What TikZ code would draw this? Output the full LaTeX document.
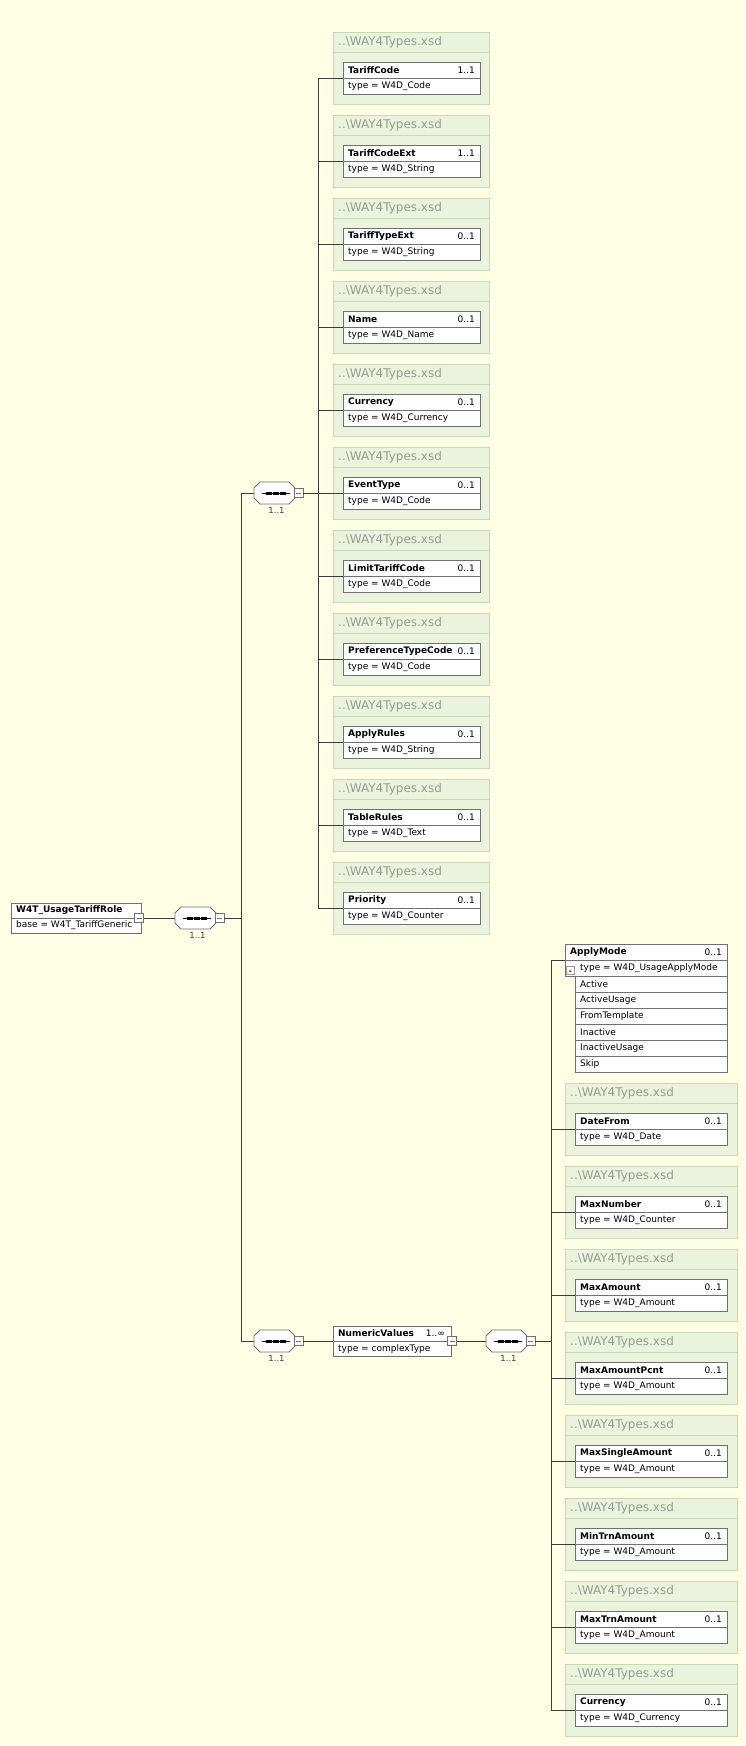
\documentclass[tikz,border=0pt]{standalone}
\usepackage{fontspec}
\setmainfont{DejaVu Sans}
\usetikzlibrary{calc}

\definecolor{bg}{RGB}{255,255,230}
\definecolor{grpfill}{RGB}{236,243,221}
\definecolor{grpline}{RGB}{202,215,186}
\definecolor{hdrtext}{RGB}{150,156,148}
\definecolor{boxline}{RGB}{112,112,112}
\definecolor{wirecol}{RGB}{60,60,60}

\tikzset{
  wire/.style={draw=wirecol, line width=0.8pt},
  grpbox/.style={draw=grpline, fill=grpfill, line width=1pt, anchor=north west,
    minimum width=#1, minimum height=72, inner sep=0pt, outer sep=0pt},
  grpsep/.style={draw=grpline, line width=0.8pt},
  elbox/.style={draw=boxline, fill=white, line width=0.8pt, anchor=north west,
    minimum width=#1, minimum height=32, inner sep=0pt, outer sep=0pt},
  rowline/.style={draw=boxline, line width=0.8pt},
  txt/.style={inner sep=0pt, font=\fontsize{9}{10}\selectfont, text=black},
  hdr/.style={inner sep=0pt, font=\fontsize{12}{13}\selectfont, text=hdrtext, anchor=west},
  seqnode/.style={minimum width=41, minimum height=22, inner sep=0pt, outer sep=0pt},
  seqline/.style={draw=boxline, fill=white, line width=0.8pt},
  minus/.style={draw=boxline, fill=white, line width=0.8pt, minimum size=9,
    inner sep=0pt, outer sep=0pt},
  occ/.style={inner sep=0pt, font=\fontsize{8.5}{10}\selectfont, text=black!75},
}

% imported element: file header plus a two-row element box
% #1 id, #2 left, #3 top, #4 group width, #5 box width, #6 name, #7 occurrence, #8 type
\newcommand{\xsdgroup}[8]{%
  \node[grpbox=#4] (g#1) at (#2,#3) {};
  \draw[grpsep] ($(g#1.north west)+(0,20)$) -- ($(g#1.north east)+(0,20)$);
  \node[hdr] (h#1) at ($(g#1.north west)+(5,10)$) {..\textbackslash WAY4Types.xsd};
  \node[elbox=#5] (e#1) at ($(g#1.north west)+(10,30)$) {};
  \draw[rowline] (e#1.west) -- (e#1.east);
  \node[txt, anchor=west] (n#1) at ($(e#1.north west)+(5,8)$) {\bfseries #6};
  \node[txt, anchor=east] (o#1) at ($(e#1.north east)+(-5,8)$) {#7};
  \node[txt, anchor=west] (t#1) at ($(e#1.south west)+(5,-8)$) {type = #8};
}

% sequence compositor outline and its symbol
\newcommand{\seqshape}[1]{%
  \draw[seqline] ($(#1.west)+(0,-5)$) -- ($(#1.north west)+(6,0)$)
    -- ($(#1.north east)+(-6,0)$) -- ($(#1.east)+(0,-5)$)
    -- ($(#1.east)+(0,5)$) -- ($(#1.south east)+(-6,0)$)
    -- ($(#1.south west)+(6,0)$) -- ($(#1.west)+(0,5)$) -- cycle;
  \draw[black, line width=0.8pt] ($(#1.center)+(-12.5,0)$) -- ($(#1.center)+(15.5,0)$);
  \fill[black] ($(#1.center)+(-8.5,-1.5)$) rectangle ($(#1.center)+(-3,1.5)$);
  \fill[black] ($(#1.center)+(-1.5,-1.5)$) rectangle ($(#1.center)+(4,1.5)$);
  \fill[black] ($(#1.center)+(5.5,-1.5)$) rectangle ($(#1.center)+(11,1.5)$);
}

% collapse button
\newcommand{\minusbox}[2]{%
  \node[minus] (#1) at (#2) {};
  \draw[boxline, line width=0.7pt] ($(#1.center)+(-2.5,0)$) -- ($(#1.center)+(2.5,0)$);
}

\begin{document}
\begin{tikzpicture}[x=1pt, y=-1pt]
\useasboundingbox (0,0) rectangle (746,1746);
\fill[bg] (0,0) rectangle (746,1746);

% bus lines
\coordinate (busA) at (241,0);
\coordinate (busB) at (318,0);
\coordinate (busC) at (551,0);

% root element
\node[elbox=130, minimum height=30] (root) at (11,903) {};
\draw[rowline] (root.west) -- (root.east);
\node[txt, anchor=west] (rootname) at ($(root.north west)+(5,7.5)$) {\bfseries W4T\_UsageTariffRole};
\node[txt, anchor=west] (rootbase) at ($(root.south west)+(5,-7.5)$) {base = W4T\_TariffGeneric};

% compositors
\node[seqnode] (s0) at (195.5,918) {};
\node[seqnode] (s1) at (274.5,493) {};
\node[seqnode] (s2) at (274.5,1341) {};
\node[seqnode] (s3) at (506.5,1341) {};

% NumericValues element
\node[elbox=118, minimum height=30] (nv) at (333,1326) {};
\draw[rowline] (nv.west) -- (nv.east);
\node[txt, anchor=west] (nvname) at ($(nv.north west)+(5,7.5)$) {\bfseries NumericValues};
\node[txt, anchor=east] (nvocc) at ($(nv.north east)+(-6,7.5)$) {1..∞};
\node[txt, anchor=west] (nvtype) at ($(nv.south west)+(5,-7.5)$) {type = complexType};

% left column of imported elements
\xsdgroup{L0}{333}{32}{156}{137}{TariffCode}{1..1}{W4D\_Code}
\xsdgroup{L1}{333}{115}{156}{137}{TariffCodeExt}{1..1}{W4D\_String}
\xsdgroup{L2}{333}{198}{156}{137}{TariffTypeExt}{0..1}{W4D\_String}
\xsdgroup{L3}{333}{281}{156}{137}{Name}{0..1}{W4D\_Name}
\xsdgroup{L4}{333}{364}{156}{137}{Currency}{0..1}{W4D\_Currency}
\xsdgroup{L5}{333}{447}{156}{137}{EventType}{0..1}{W4D\_Code}
\xsdgroup{L6}{333}{530}{156}{137}{LimitTariffCode}{0..1}{W4D\_Code}
\xsdgroup{L7}{333}{613}{156}{137}{PreferenceTypeCode}{0..1}{W4D\_Code}
\xsdgroup{L8}{333}{696}{156}{137}{ApplyRules}{0..1}{W4D\_String}
\xsdgroup{L9}{333}{779}{156}{137}{TableRules}{0..1}{W4D\_Text}
\xsdgroup{L10}{333}{862}{156}{137}{Priority}{0..1}{W4D\_Counter}

% ApplyMode with its enumeration
\node[draw=boxline, fill=white, line width=0.8pt, anchor=north west, minimum width=162,
  minimum height=32, inner sep=0pt, outer sep=0pt] (am) at (565,944) {};
\draw[rowline] (am.west) -- (am.east);
\node[txt, anchor=west] (amname) at ($(am.north west)+(5,8)$) {\bfseries ApplyMode};
\node[txt, anchor=east] (amocc) at ($(am.north east)+(-5,8)$) {0..1};
\node[txt, anchor=west] (amtype) at ($(am.south west)+(15,-8)$) {type = W4D\_UsageApplyMode};
\draw[draw=boxline!70, fill=white, line width=0.5pt] ($(am.south west)+(1.5,-9.5)$) rectangle ($(am.south west)+(9,-2)$);
\fill[boxline] ($(am.south west)+(3.5,-4)$) -- ($(am.south west)+(7,-4)$) -- ($(am.south west)+(5.25,-6.5)$) -- cycle;
\node[draw=boxline, fill=white, line width=0.8pt, anchor=north west, minimum width=152,
  minimum height=96, inner sep=0pt, outer sep=0pt] (amv) at (575,976) {};
\foreach \k in {1,...,5} { \draw[rowline] ($(amv.north west)+(0,16*\k)$) -- ($(amv.north east)+(0,16*\k)$); }
\foreach \k/\v in {0/Active, 1/ActiveUsage, 2/FromTemplate, 3/Inactive, 4/InactiveUsage, 5/Skip} {
  \node[txt, anchor=west] (amv\k) at ($(amv.north west)+(5,8+16*\k)$) {\v};
}

% right column of imported elements
\xsdgroup{R0}{565}{1083}{172}{152}{DateFrom}{0..1}{W4D\_Date}
\xsdgroup{R1}{565}{1166}{172}{152}{MaxNumber}{0..1}{W4D\_Counter}
\xsdgroup{R2}{565}{1249}{172}{152}{MaxAmount}{0..1}{W4D\_Amount}
\xsdgroup{R3}{565}{1332}{172}{152}{MaxAmountPcnt}{0..1}{W4D\_Amount}
\xsdgroup{R4}{565}{1415}{172}{152}{MaxSingleAmount}{0..1}{W4D\_Amount}
\xsdgroup{R5}{565}{1498}{172}{152}{MinTrnAmount}{0..1}{W4D\_Amount}
\xsdgroup{R6}{565}{1581}{172}{152}{MaxTrnAmount}{0..1}{W4D\_Amount}
\xsdgroup{R7}{565}{1664}{172}{152}{Currency}{0..1}{W4D\_Currency}

% connectors
\draw[wire] ($(root.east)+(3,0)$) -- (s0.west);
\draw[wire] (s1.west) -- (s1.west -| busA) -- (s2.west -| busA) -- (s2.west);
\draw[wire] (eL0.west -| busB) -- (eL10.west -| busB);
\foreach \i in {0,...,10} { \draw[wire] (eL\i.west -| busB) -- (eL\i.west); }
\draw[wire] (am.west -| busC) -- (eR7.west -| busC);
\draw[wire] (am.west -| busC) -- (am.west);
\foreach \j in {0,...,7} { \draw[wire] (eR\j.west -| busC) -- (eR\j.west); }

% compositor shapes and their buttons
\seqshape{s0}
\seqshape{s1}
\seqshape{s2}
\seqshape{s3}
\minusbox{sqR}{139,918}
\minusbox{sq0}{219.5,918}
\minusbox{sq1}{298.5,493}
\minusbox{sq2}{298.5,1341}
\minusbox{sqN}{452,1341}
\minusbox{sq3}{530.5,1341}
\draw[wire] (sq0.east) -- (sq0.east -| busA);
\draw[wire] (sq1.east) -- (sq1.east -| busB);
\draw[wire] (sq2.east) -- (nv.west);
\draw[wire] (sqN.east) -- (s3.west);
\draw[wire] (sq3.east) -- (sq3.east -| busC);

% occurrence labels under compositors
\node[occ] (c0) at ($(s0.center)+(2,17)$) {1..1};
\node[occ] (c1) at ($(s1.center)+(2,17)$) {1..1};
\node[occ] (c2) at ($(s2.center)+(2,17)$) {1..1};
\node[occ] (c3) at ($(s3.center)+(2,17)$) {1..1};
\end{tikzpicture}
\end{document}
